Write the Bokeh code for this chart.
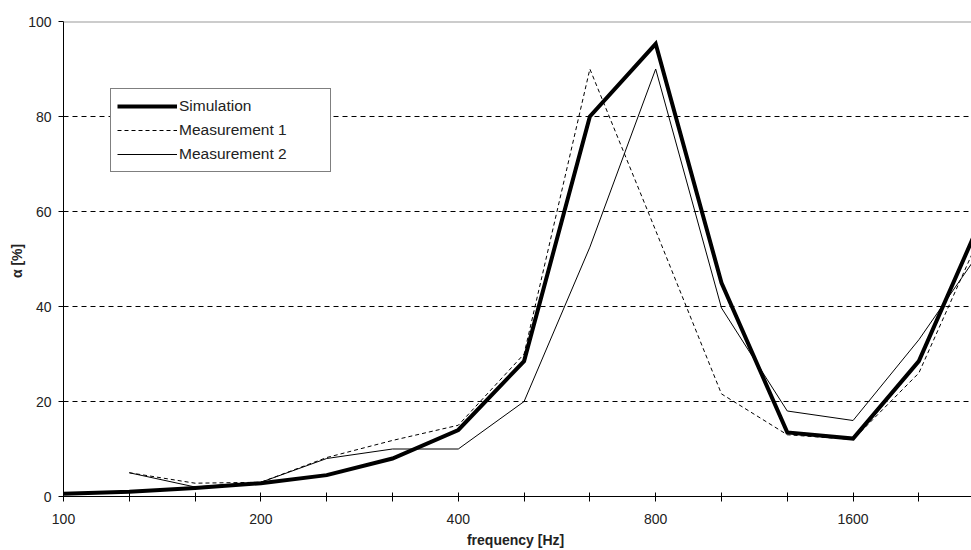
from bokeh.plotting import figure
from bokeh.models import Range1d, FixedTicker, Span, Legend, LegendItem
from bokeh.embed import file_html
from bokeh.resources import INLINE
import numpy as np

freqs = [100, 125, 160, 200, 250, 315, 400, 500, 630, 800, 1000, 1250, 1600, 2000, 2500]
labeled_freqs = [100, 200, 400, 800, 1600]
simulation = [0.6, 1.0, 1.8, 2.8, 4.5, 8.0, 14.0, 28.5, 80.0, 95.3, 45.0, 13.5, 12.2, 28.5, 60.0]
measurement1 = [np.nan, 5.0, 2.8, 3.0, 8.2, 11.8, 15.0, 30.0, 90.0, 56.0, 21.6, 13.0, 12.0, 26.0, 57.0]
measurement2 = [np.nan, 5.0, 2.0, 3.0, 8.0, 10.0, 10.0, 20.0, 52.5, 90.0, 39.7, 18.0, 16.0, 33.0, 53.0]
y_ticks = [0, 20, 40, 60, 80, 100]
grid_values = [20, 40, 60, 80]

idx = list(range(len(freqs)))

FONT = "Liberation Sans"

p = figure(width=971, height=550, output_backend="svg", toolbar_location=None,
           x_range=Range1d(0, 13.8), y_range=Range1d(0, 100),
           min_border_left=63, min_border_right=0, min_border_top=21, min_border_bottom=10)
p.outline_line_color = None
p.background_fill_color = "white"
p.border_fill_color = "white"

# grid
p.xgrid.visible = False
p.ygrid.ticker = FixedTicker(ticks=grid_values)
p.ygrid.grid_line_color = "black"
p.ygrid.grid_line_dash = "5 4"
p.ygrid.grid_line_width = 1

top = Span(location=100, dimension="width", line_color="#9a9a9a", line_width=2)
p.add_layout(top)

# axes
p.xaxis.ticker = FixedTicker(ticks=idx)
p.xaxis.major_label_overrides = {i: (str(f) if f in labeled_freqs else "") for i, f in zip(idx, freqs)}
p.xaxis.minor_tick_line_color = None
p.xaxis.major_tick_in = 4
p.xaxis.major_tick_out = 5
p.xaxis.axis_line_color = "black"
p.xaxis.major_tick_line_color = "black"
p.xaxis.major_label_text_font = FONT
p.xaxis.major_label_text_font_size = "14px"
p.xaxis.major_label_text_color = "#222222"
p.xaxis.major_label_standoff = 12
p.xaxis.axis_label = "frequency  [Hz]"
p.xaxis.axis_label_text_font = FONT
p.xaxis.axis_label_text_font_style = "bold"
p.xaxis.axis_label_text_font_size = "14px"
p.xaxis.axis_label_text_color = "#222222"
p.xaxis.axis_label_standoff = 5

p.yaxis.ticker = FixedTicker(ticks=y_ticks)
p.yaxis.minor_tick_line_color = None
p.yaxis.major_tick_in = 0
p.yaxis.major_tick_out = 5
p.yaxis.axis_line_color = "black"
p.yaxis.major_tick_line_color = "black"
p.yaxis.major_label_text_font = FONT
p.yaxis.major_label_text_font_size = "14px"
p.yaxis.major_label_text_color = "#222222"
p.yaxis.major_label_standoff = 7
p.yaxis.axis_label = "α  [%]"
p.yaxis.axis_label_text_font = FONT
p.yaxis.axis_label_text_font_style = "bold"
p.yaxis.axis_label_text_font_size = "14px"
p.yaxis.axis_label_text_color = "#222222"
p.yaxis.axis_label_standoff = 0

r_sim = p.line(idx, simulation, line_color="black", line_width=4, line_join="miter")
r_m1 = p.line(idx, measurement1, line_color="black", line_width=1, line_dash="4 3")
r_m2 = p.line(idx, measurement2, line_color="black", line_width=1)

legend = Legend(items=[LegendItem(label="Simulation", renderers=[r_sim]),
                       LegendItem(label="Measurement 1", renderers=[r_m1]),
                       LegendItem(label="Measurement 2", renderers=[r_m2])],
                location=(47, 324))
legend.border_line_color = "black"
legend.border_line_width = 1
legend.background_fill_color = "white"
legend.background_fill_alpha = 1
legend.label_text_font = FONT
legend.label_text_font_size = "15.5px"
legend.label_text_color = "#222222"
legend.glyph_width = 60
legend.glyph_height = 22
legend.label_height = 22
legend.label_standoff = 2
legend.label_width = 145
legend.spacing = 2
legend.padding = 6
legend.margin = 0
p.add_layout(legend)

open("out.html", "w").write(file_html(p, INLINE))
